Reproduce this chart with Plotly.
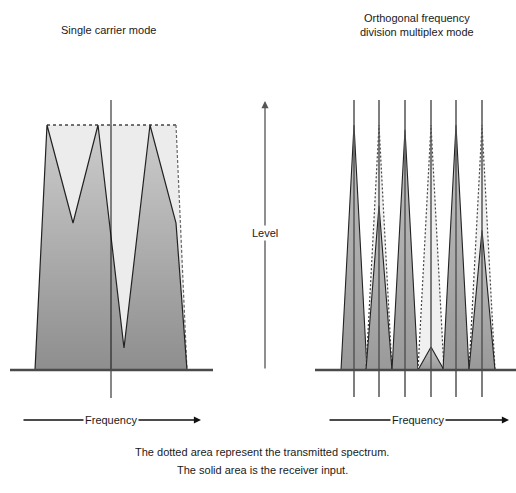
import plotly.graph_objects as go

# ---------------- data ----------------
# Single carrier mode: frequency positions (axis units) and levels (1 = full transmitted level)
sc_freq = [35, 47, 73, 98, 124, 150, 176, 187]
sc_rx_level = [0.0, 1.0, 0.60, 1.0, 0.09, 1.0, 0.60, 0.0]
sc_tx_freq = [35, 47, 176, 187]
sc_tx_level = [0.0, 1.0, 1.0, 0.0]
sc_center = 111

# OFDM mode: sub-carrier centres, received and transmitted peak levels
ofdm_freq = [354, 379, 405, 431, 456, 482]
ofdm_rx_level = [1.0, 0.67, 0.98, 0.094, 1.0, 0.57]
ofdm_tx_level = [1.0, 1.0, 1.0, 1.0, 1.0, 1.0]
ofdm_halfwidth = 13

W, H = 516, 493
BASE_PX = 370.0
UNIT_PX = 245.0
def lvl(py):
    return (BASE_PX - py) / UNIT_PX

FONT = "Liberation Sans Narrow, Arial Narrow, Liberation Sans, Arial, sans-serif"
grad = dict(type="vertical", colorscale=[[0, "#8e8e8e"], [1, "#cdcdcd"]])

fig = go.Figure()

# ---- single carrier: transmitted (dotted) area ----
fig.add_trace(go.Scatter(x=sc_tx_freq, y=sc_tx_level, mode="lines", fill="toself",
                         fillcolor="#ececec", line=dict(width=0), hoverinfo="skip"))
fig.add_trace(go.Scatter(x=sc_tx_freq[1:3], y=sc_tx_level[1:3], mode="lines",
                         line=dict(color="#444", width=1.3, dash="dot"), hoverinfo="skip"))
fig.add_trace(go.Scatter(x=sc_tx_freq[2:4], y=sc_tx_level[2:4], mode="lines",
                         line=dict(color="#666", width=1.2, dash="3px,2px"), hoverinfo="skip"))
# ---- single carrier: received area ----
fig.add_trace(go.Scatter(x=sc_freq, y=sc_rx_level, mode="lines", fill="toself",
                         fillgradient=grad, line=dict(color="#222", width=1.2),
                         hoverinfo="skip"))

# ---- OFDM triangles ----
for f, rx, tx in zip(ofdm_freq, ofdm_rx_level, ofdm_tx_level):
    xs = [f - ofdm_halfwidth, f, f + ofdm_halfwidth]
    if tx > rx + 0.03:
        fig.add_trace(go.Scatter(x=xs, y=[0, tx, 0], mode="lines", fill="toself",
                                 fillcolor="#f0f0f0",
                                 line=dict(color="#444", width=1.2, dash="2px,2px"),
                                 hoverinfo="skip"))
    fig.add_trace(go.Scatter(x=xs, y=[0, rx, 0], mode="lines", fill="toself",
                             fillgradient=dict(type="vertical",
                                               colorscale=[[0, "#999999"], [1, "#c2c2c2"]]),
                             line=dict(color="#222", width=1.1), hoverinfo="skip"))

shapes = []
# centre line of single carrier
shapes.append(dict(type="line", xref="x", yref="y", x0=sc_center, x1=sc_center,
                   y0=lvl(398), y1=lvl(100), line=dict(color="#111", width=1)))
# OFDM carrier lines
for f in ofdm_freq:
    shapes.append(dict(type="line", xref="x", yref="y", x0=f, x1=f,
                       y0=lvl(397), y1=lvl(100), line=dict(color="#555", width=1.5)))
# baselines
shapes.append(dict(type="line", xref="x", yref="y", x0=10, x1=213, y0=0, y1=0,
                   line=dict(color="#4a4a4a", width=2.5)))
shapes.append(dict(type="line", xref="x", yref="y", x0=315, x1=516, y0=0, y1=0,
                   line=dict(color="#4a4a4a", width=2.5)))

annotations = []
def arrow(x0, y0, x1, y1, color="#111", width=1.3):
    annotations.append(dict(x=x1, y=y1, ax=x0, ay=y0, xref="x", yref="y",
                            axref="x", ayref="y", text="", showarrow=True,
                            arrowhead=2, arrowsize=1.1, arrowwidth=width,
                            arrowcolor=color, standoff=0))

# Level arrow
arrow(265, 0, 265, lvl(101), color="#555", width=1.3)
# Frequency arrows
arrow(22, lvl(420), 201, lvl(420))
arrow(328, lvl(420), 509, lvl(420))

def text(x, py, s, size=11, bg=None):
    d = dict(x=x, y=1 - py / H, xref="x", yref="paper", text=s, showarrow=False,
             font=dict(family=FONT, size=size, color="#1a1a1a"),
             xanchor="center", yanchor="middle")
    if bg:
        d["bgcolor"] = bg
    annotations.append(d)

text(108, 30, "Single carrier mode")
text(417, 25, "Orthogonal frequency<br>division multiplex mode")
text(265, 233, "Level", bg="white")
text(111, 420, "Frequency", bg="white")
text(418, 420, "Frequency", bg="white")
text(262, 452, "The dotted area represent the transmitted spectrum.")
text(262, 470, "The solid area is the receiver input.")

fig.update_layout(
    width=W, height=H, margin=dict(l=0, r=0, t=0, b=0),
    paper_bgcolor="white", plot_bgcolor="white", showlegend=False,
    xaxis=dict(range=[0, W], visible=False, fixedrange=True),
    yaxis=dict(range=[lvl(H), lvl(0)], visible=False, fixedrange=True),
    shapes=shapes, annotations=annotations,
)

fig.write_html("out.html", config={"displayModeBar": False},
               post_script="document.body.style.margin='0';document.body.style.overflow='hidden';")
